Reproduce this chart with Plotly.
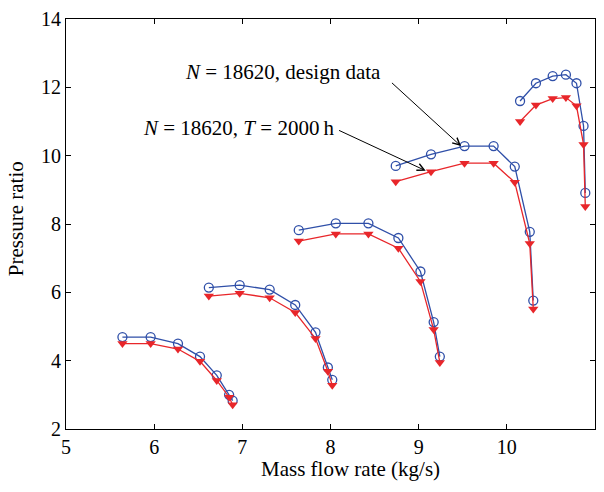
import plotly.graph_objects as go

# Compressor map: five speed lines, design data vs. after 2000 h of operation
flow = [
    [5.64, 5.96, 6.27, 6.52, 6.71, 6.85, 6.89],
    [6.62, 6.97, 7.31, 7.60, 7.83, 7.97, 8.02],
    [7.64, 8.06, 8.43, 8.77, 9.02, 9.17, 9.24],
    [8.74, 9.14, 9.52, 9.85, 10.09, 10.26, 10.30],
    [10.15, 10.33, 10.52, 10.67, 10.79, 10.87, 10.89],
]
pr_design = [
    [4.69, 4.69, 4.50, 4.12, 3.57, 3.00, 2.83],
    [6.14, 6.21, 6.08, 5.63, 4.83, 3.80, 3.44],
    [7.82, 8.02, 8.02, 7.59, 6.61, 5.13, 4.12],
    [9.70, 10.04, 10.28, 10.28, 9.68, 7.77, 5.76],
    [11.60, 12.12, 12.33, 12.37, 12.12, 10.87, 8.91],
]
pr_2000h = [
    [4.50, 4.50, 4.34, 3.98, 3.42, 2.93, 2.71],
    [5.89, 5.97, 5.84, 5.41, 4.65, 3.69, 3.28],
    [7.50, 7.71, 7.71, 7.29, 6.32, 4.91, 3.95],
    [9.24, 9.53, 9.78, 9.78, 9.22, 7.43, 5.51],
    [11.00, 11.48, 11.67, 11.70, 11.46, 10.33, 8.51],
]

x_ticks = [5, 6, 7, 8, 9, 10, 11]
y_ticks = [2, 4, 6, 8, 10, 12, 14]

BLUE = "#2f4fa8"
RED = "#e8262a"
FONT = "Liberation Serif"

fig = go.Figure()

for fx, py in zip(flow, pr_design):
    fig.add_trace(go.Scatter(
        x=fx, y=py, mode="lines+markers",
        line=dict(color=BLUE, width=1.3),
        marker=dict(symbol="circle-open", size=9, color=BLUE,
                    line=dict(width=1.3, color=BLUE)),
        showlegend=False,
    ))

for fx, py in zip(flow, pr_2000h):
    fig.add_trace(go.Scatter(
        x=fx, y=py, mode="lines+markers",
        line=dict(color=RED, width=1.3),
        marker=dict(symbol="triangle-down", size=9, color=RED),
        showlegend=False,
    ))

# Labels with leader arrows
labels = [
    dict(text="<i>N</i> = 18620, design data", tx=8.60, ty=12.45,
         tail=(8.68, 12.17), tip=(9.48, 10.28)),
    dict(text="<i>N</i> = 18620, <i>T</i> = 2000\u2009h", tx=8.07, ty=10.82,
         tail=(8.08, 10.76), tip=(9.08, 9.56)),
]
for lab in labels:
    fig.add_annotation(
        x=lab["tx"], y=lab["ty"], xref="x", yref="y", text=lab["text"],
        showarrow=False, xanchor="right", yanchor="middle",
        font=dict(family=FONT, size=21, color="black"),
    )
    fig.add_annotation(
        x=lab["tip"][0], y=lab["tip"][1], ax=lab["tail"][0], ay=lab["tail"][1],
        xref="x", yref="y", axref="x", ayref="y", text="",
        showarrow=True, arrowhead=5, arrowsize=1.4, arrowwidth=1,
        arrowcolor="black",
    )

# Axis titles (positions given in pixels, converted below)
fig.add_annotation(
    x=351, y=470, xref="paper", yref="paper", text="Mass flow rate (kg/s)",
    showarrow=False, xanchor="center", yanchor="middle",
    font=dict(family=FONT, size=21, color="black"),
)
fig.add_annotation(
    x=16, y=216, xref="paper", yref="paper", text="Pressure ratio",
    textangle=-90, showarrow=False, xanchor="center", yanchor="middle",
    font=dict(family=FONT, size=21, color="black"),
)

axis_common = dict(
    showline=True, linecolor="black", linewidth=1, mirror="ticks",
    ticks="inside", ticklen=5, tickcolor="black", tickwidth=1,
    showgrid=False, zeroline=False,
    tickfont=dict(family=FONT, size=20, color="black"),
)

fig.update_xaxes(range=[5, 11], tickvals=x_ticks, **axis_common)
fig.update_yaxes(range=[2, 14], tickvals=y_ticks, **axis_common)

W, H = 604, 492
ML, MR, MT, MB = 66, 8, 13, 63
fig.update_layout(
    width=W, height=H,
    margin=dict(l=ML, r=MR, t=MT, b=MB),
    plot_bgcolor="white", paper_bgcolor="white",
    font=dict(family=FONT, color="black"),
)

# convert pixel positions of the axis titles into paper coordinates
pw, ph = W - ML - MR, H - MT - MB
for ann in fig.layout.annotations:
    if ann.xref == "paper":
        ann.x = (ann.x - ML) / pw
        ann.y = (H - MB - ann.y) / ph

fig.write_html("out.html")
